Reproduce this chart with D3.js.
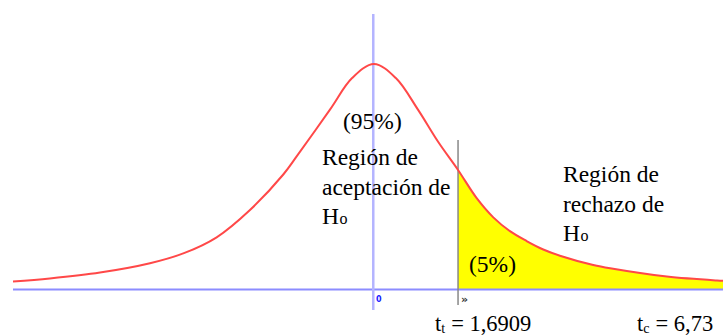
<!DOCTYPE html>
<html>
  <head>
    <meta charset="utf-8">
    <script src="https://d3js.org/d3.v7.min.js"></script>
  </head>
  <body style="margin:0">
    <script>
      var width = 723, height = 336;
      var serif = "Liberation Serif";

      // curve (t value, density)
      var tValues = [-7.26, -6.52, -5.51, -4.505, -3.835, -3.164, -2.494, -1.824, -1.555, -0.885, -0.44, 0,
                     0.44, 0.885, 1.29, 1.6909, 2.066, 2.40, 2.735, 3.07, 3.405, 3.74, 4.41, 4.75, 5.89, 6.90, 7.02];
      var density = [0.014, 0.0195, 0.030, 0.0465, 0.064, 0.0926, 0.141, 0.204, 0.236, 0.319, 0.375, 0.40,
                     0.375, 0.319, 0.262, 0.212, 0.162, 0.128, 0.1035, 0.086, 0.071, 0.060, 0.0435, 0.0376, 0.023, 0.016, 0.0155];
      var tCritical = 1.6909;
      var tickValues = [0];
      var tickLabels = ["0"];

      var points = tValues.map((t, i) => ({t: t, d: density[i]}));

      var x = d3.scaleLinear().domain([-7.26, 7.02]).range([13, 723]);
      var y = d3.scaleLinear().domain([0, 0.4]).range([289.5, 64]);

      var svg = d3.select("body")
        .append("svg")
          .attr("width", width)
          .attr("height", height)
          .attr("font-family", serif);

      function txt(s, x0, y0, size) {
        return svg.append("text")
            .attr("x", x0)
            .attr("y", y0)
            .attr("font-family", serif)
            .attr("font-size", size)
            .text(s);
      }
      // small "o" of H_o is its own text
      function label(lines, x0, y0) {
        lines.forEach((l, i) => {
          var t = txt(l[0], x0, y0 + i * 29.5, 23.5);
          if (l[1]) txt(l[1], x0 + t.node().getComputedTextLength() + 0.5, y0 + i * 29.5, 16);
        });
      }

      var curve = d3.curveCatmullRom.alpha(0.5);

      svg.append("clipPath")
          .attr("id", "tail")
        .append("rect")
          .attr("x", x(tCritical)).attr("y", 0)
          .attr("width", width).attr("height", height);

      // rejection region
      var area = d3.area()
          .x(p => x(p.t))
          .y0(y(0))
          .y1(p => y(p.d))
          .curve(curve);
      svg.append("path")
          .datum(points.filter(p => p.t >= tCritical - 0.5))
          .attr("d", area)
          .attr("clip-path", "url(#tail)")
          .attr("fill", "#ffff00");

      // axes
      svg.append("line")
          .attr("x1", x(-7.26)).attr("x2", width)
          .attr("y1", y(0)).attr("y2", y(0))
          .attr("stroke", "#8c8cff")
          .attr("stroke-width", 2);
      svg.append("line")
          .attr("x1", x(0) - 0.7).attr("x2", x(0) - 0.7)
          .attr("y1", 14).attr("y2", 310)
          .attr("stroke", "#b4b4ff")
          .attr("stroke-width", 2.5);

      // critical value
      svg.append("line")
          .attr("x1", x(tCritical)).attr("x2", x(tCritical))
          .attr("y1", 140).attr("y2", 305)
          .attr("stroke", "#888")
          .attr("stroke-width", 1.5);

      // density curve
      var line = d3.line()
          .x(p => x(p.t))
          .y(p => y(p.d))
          .curve(curve);
      svg.append("path")
          .datum(points)
          .attr("d", line)
          .attr("fill", "none")
          .attr("stroke", "#ff4848")
          .attr("stroke-width", 2);

      label([["(95%)"]], 343, 129);
      label([["Región de"], ["aceptación de"], ["H", "o"]], 322, 165);
      label([["Región de"], ["rechazo de"], ["H", "o"]], 563, 182);
      label([["(5%)"]], 469, 272);

      function tLabel(sub, value, x0) {
        var t = txt("t", x0, 331, 22.5);
        var s = txt(sub, x0 + t.node().getComputedTextLength(), 333, 14);
        txt("= " + value, x0 + t.node().getComputedTextLength() + s.node().getComputedTextLength() + 6, 331, 22.5);
      }
      tLabel("t", "1,6909", 435);
      tLabel("c", "6,73", 637);

      svg.selectAll(".tick")
        .data(tickValues)
        .enter()
        .append("text")
          .attr("x", d => x(d) + 2)
          .attr("y", 302)
          .attr("font-family", "DejaVu Sans")
          .attr("font-size", 8)
          .attr("font-weight", "bold")
          .attr("fill", "#2020ff")
          .text((d, i) => tickLabels[i]);
      svg.append("text")
          .attr("x", x(tCritical) + 3)
          .attr("y", 303)
          .attr("font-family", "DejaVu Sans")
          .attr("font-size", 11)
          .attr("font-weight", "bold")
          .attr("fill", "#333")
          .text("»");
    </script>
  </body>
</html>
